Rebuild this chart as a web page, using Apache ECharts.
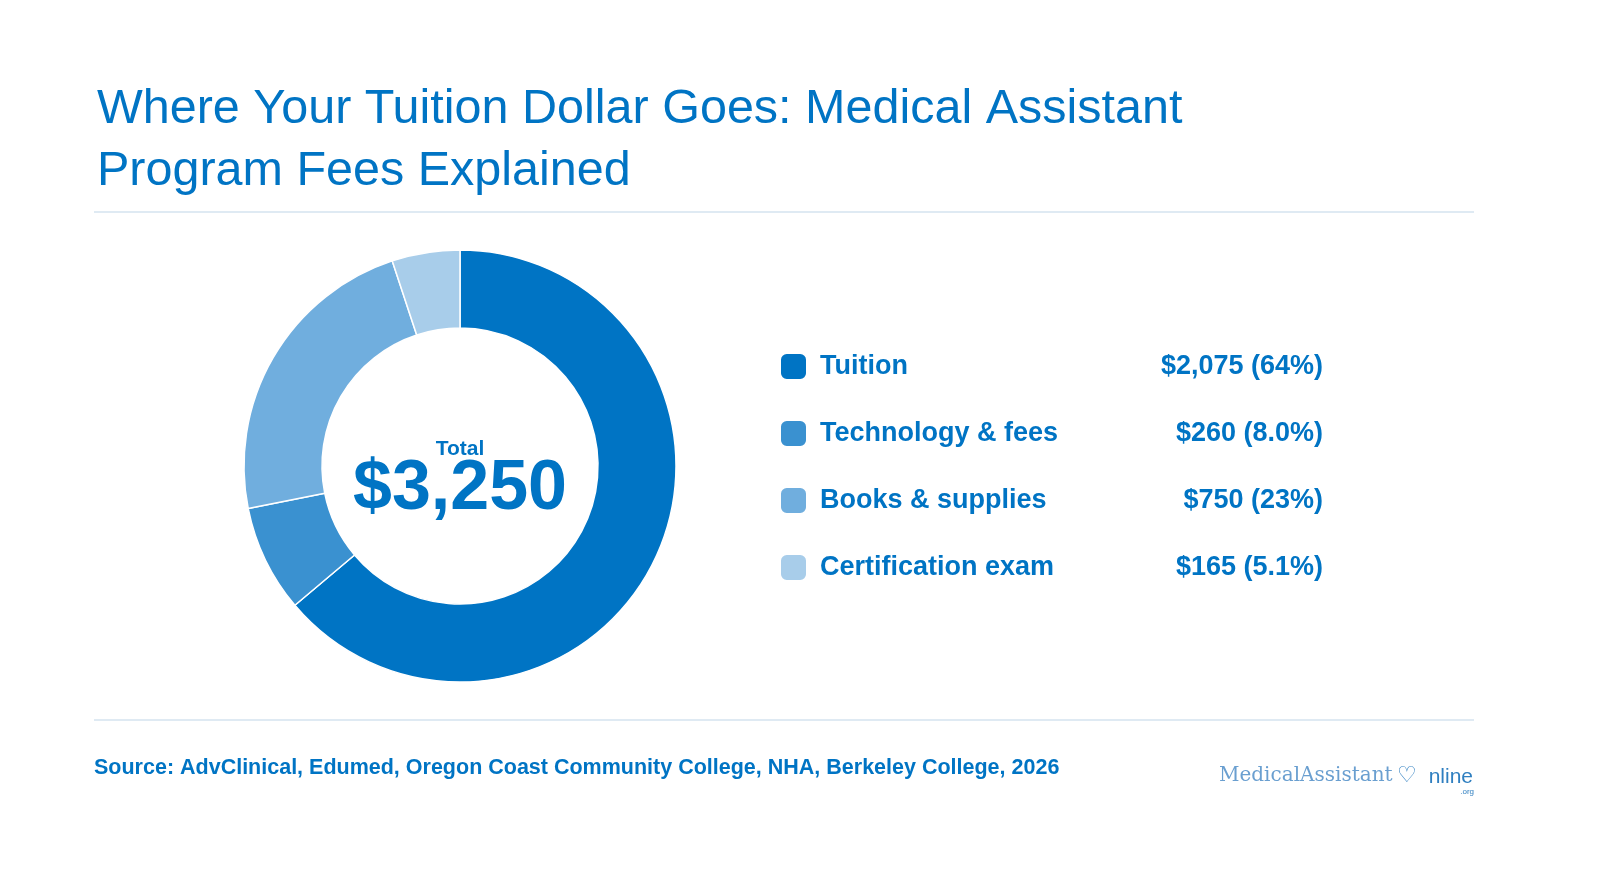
<!DOCTYPE html>
<html><head><meta charset="utf-8">
<script src="https://cdn.jsdelivr.net/npm/echarts@6/dist/echarts.min.js"></script>
<style>html,body{margin:0;background:#fff}#c{width:1600px;height:896px}</style></head>
<body><div id="c"></div>
<script>
const categories=["Tuition","Technology & fees","Books & supplies","Certification exam"];
const values=[2075,260,750,165];
const valueLabels=["$2,075 (64%)","$260 (8.0%)","$750 (23%)","$165 (5.1%)"];
const colors=["#0074C4","#3A91D0","#70AEDE","#A8CDEA"];
const totalLabel="$3,250";
const F="'Liberation Sans', Arial, sans-serif";
const B="#0074C4";
const chart=echarts.init(document.getElementById('c'));
chart.setOption({
  animation:false,
  title:{text:"Where Your Tuition Dollar Goes: Medical Assistant\nProgram Fees Explained",left:92,top:74,
    textStyle:{fontFamily:F,fontSize:48.5,fontWeight:'normal',color:B,lineHeight:62}},
  legend:{orient:'vertical',left:774,top:347,itemWidth:27,itemHeight:27,itemGap:38,icon:'roundRect',
    data:categories,
    formatter:n=>'{n|'+n+'}{v|'+valueLabels[categories.indexOf(n)]+'}',
    textStyle:{fontFamily:F,color:B,padding:[0,0,0,8],rich:{
      n:{fontFamily:F,fontSize:27,fontWeight:'bold',color:B,width:330},
      v:{fontFamily:F,fontSize:27,fontWeight:'bold',color:B,width:173,align:'right'}}}},
  series:[{type:'pie',center:[460,466],radius:[138,216],startAngle:90,clockwise:true,
    label:{show:false},emphasis:{disabled:true},
    itemStyle:{borderColor:'#fff',borderWidth:1.5},
    data:categories.map((c,i)=>({name:c,value:values[i],itemStyle:{color:colors[i]}}))}],
  graphic:[
    {type:'line',shape:{x1:94,y1:212,x2:1474,y2:212},style:{stroke:'#d5e3ef',lineWidth:1.5}},
    {type:'line',shape:{x1:94,y1:720,x2:1474,y2:720},style:{stroke:'#d5e3ef',lineWidth:1.5}},
    {type:'text',x:460,y:449,style:{text:'Total',fontFamily:F,fontSize:21,fontWeight:'bold',fill:B,align:'center',verticalAlign:'middle'}},
    {type:'text',x:460,y:490,style:{text:totalLabel,fontFamily:F,fontSize:70,fontWeight:'bold',fill:B,align:'center',verticalAlign:'middle'}},
    {type:'text',x:94,y:768,style:{text:'Source: AdvClinical, Edumed, Oregon Coast Community College, NHA, Berkeley College, 2026',fontFamily:F,fontSize:21.5,fontWeight:'bold',fill:B,verticalAlign:'middle'}},
    {type:'text',x:1219,y:776,style:{text:'MedicalAssistant',fontFamily:"'DejaVu Serif', serif",fontSize:20,fill:'#6a9fd0',verticalAlign:'middle'}},
    {type:'text',x:1397,y:776,style:{text:'♡',fontFamily:"'DejaVu Sans', sans-serif",fontSize:22,fill:'#2f7fc0',verticalAlign:'middle'}},
    {type:'text',x:1473,y:777,style:{text:'nline',fontFamily:F,fontSize:21,fill:'#2f7fc0',align:'right',verticalAlign:'middle'}},
    {type:'text',x:1474,y:792,style:{text:'.org',fontFamily:F,fontSize:8,fill:'#2f7fc0',align:'right',verticalAlign:'middle'}}
  ]
});
</script></body></html>
